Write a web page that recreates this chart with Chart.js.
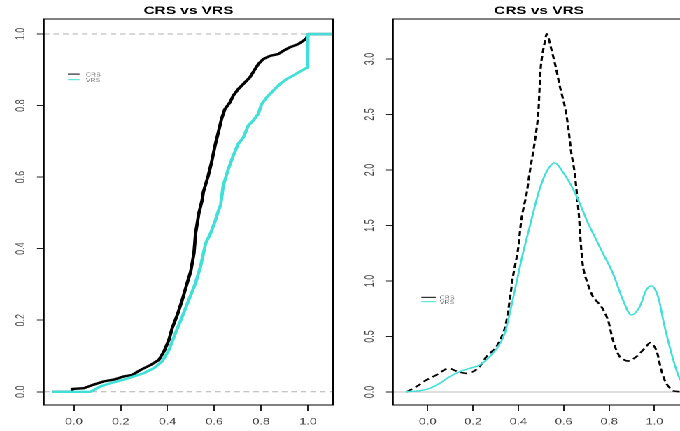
<!DOCTYPE html>
<html>
<head>
<meta charset="utf-8">
<title>CRS vs VRS</title>
<script src="https://cdn.jsdelivr.net/npm/chart.js@4/dist/chart.umd.min.js"></script>
<style>
  html, body { margin: 0; padding: 0; background: #fff; overflow: hidden; }
  /* the figure is laid out narrow and widened horizontally */
  #stage { position: absolute; left: 0; top: 0; width: 486px; height: 431px; overflow: hidden;
           transform-origin: 0 0; transform: scaleX(1.39918); }
  #p1 { position: absolute; left: 0; top: 0; width: 243px; height: 431px; }
  #p2 { position: absolute; left: 243px; top: 0; width: 248px; height: 431px; }
</style>
</head>
<body>
<div id="stage">
  <div id="p1"><canvas id="ecdf"></canvas></div>
  <div id="p2"><canvas id="dens"></canvas></div>
</div>
<script>
const crsEcdfX = [-0.094, -0.007, -0.007, 0.043, 0.085, 0.128, 0.171, 0.214, 0.249, 0.285, 0.328, 0.363, 0.385,
  0.406, 0.420, 0.442, 0.463, 0.484, 0.499, 0.513, 0.520, 0.534, 0.540, 0.548, 0.553, 0.574, 0.588,
  0.603, 0.617, 0.631, 0.645, 0.667, 0.681, 0.702, 0.731, 0.752, 0.774, 0.788, 0.809, 0.838, 0.873,
  0.895, 0.923, 0.959, 0.980, 0.994, 1.000, 1.107];
const crsEcdfY = [0.000, 0.000, 0.008, 0.010, 0.020, 0.029, 0.034, 0.043, 0.047, 0.061, 0.075, 0.089, 0.113,
  0.145, 0.178, 0.215, 0.257, 0.304, 0.336, 0.387, 0.443, 0.499, 0.515, 0.536, 0.558, 0.604, 0.641,
  0.688, 0.725, 0.763, 0.790, 0.809, 0.828, 0.846, 0.865, 0.879, 0.902, 0.916, 0.930, 0.939, 0.944,
  0.953, 0.963, 0.972, 0.981, 0.988, 1.000, 1.000];

const vrsEcdfX = [-0.094, 0.071, 0.114, 0.157, 0.214, 0.256, 0.299, 0.342, 0.377, 0.406, 0.434, 0.463,
  0.491, 0.520, 0.541, 0.563, 0.584, 0.605, 0.617, 0.627, 0.638, 0.660, 0.681, 0.702, 0.724, 0.745,
  0.766, 0.788, 0.802, 0.824, 0.852, 0.880, 0.909, 0.937, 0.966, 0.991, 0.999, 1.000, 1.107];
const vrsEcdfY = [0.000, 0.000, 0.015, 0.024, 0.034, 0.043, 0.052, 0.066, 0.085, 0.117, 0.164, 0.210,
  0.257, 0.304, 0.350, 0.415, 0.443, 0.480, 0.505, 0.522, 0.576, 0.623, 0.660, 0.693, 0.711, 0.744,
  0.758, 0.777, 0.804, 0.823, 0.842, 0.860, 0.874, 0.884, 0.895, 0.904, 0.906, 1.000, 1.000];

// ---- kernel density estimates ----
const crsDensX = [-0.094, -0.050, -0.006, 0.038, 0.090, 0.134, 0.178, 0.222, 0.259, 0.303, 0.340, 0.362,
  0.376, 0.398, 0.413, 0.425, 0.435, 0.450, 0.472, 0.487, 0.494, 0.501, 0.516, 0.526, 0.545, 0.567,
  0.582, 0.604, 0.619, 0.633, 0.648, 0.660, 0.667, 0.672, 0.685, 0.700, 0.729, 0.766, 0.795, 0.817,
  0.847, 0.884, 0.920, 0.957, 0.982, 1.008, 1.030, 1.052, 1.082, 1.111, 1.135];
const crsDensY = [0.000, 0.048, 0.108, 0.153, 0.213, 0.183, 0.168, 0.213, 0.318, 0.408, 0.574, 0.829,
  1.039, 1.279, 1.550, 1.680, 1.769, 1.979, 2.250, 2.490, 2.760, 2.970, 3.150, 3.225, 3.090, 2.910,
  2.760, 2.580, 2.400, 2.160, 1.979, 1.740, 1.590, 1.430, 1.129, 1.009, 0.859, 0.769, 0.649, 0.468,
  0.318, 0.279, 0.318, 0.394, 0.444, 0.378, 0.198, 0.078, 0.012, 0.003, 0.000];

const vrsDensX = [-0.094, -0.035, 0.009, 0.053, 0.097, 0.141, 0.185, 0.229, 0.273, 0.310, 0.340, 0.362,
  0.391, 0.420, 0.450, 0.472, 0.494, 0.523, 0.560, 0.597, 0.641, 0.685, 0.705, 0.729, 0.773, 0.817,
  0.861, 0.898, 0.935, 0.964, 0.986, 1.016, 1.045, 1.075, 1.097, 1.111, 1.135];
const vrsDensY = [0.003, 0.012, 0.033, 0.078, 0.138, 0.183, 0.213, 0.243, 0.318, 0.408, 0.528, 0.709,
  0.979, 1.249, 1.489, 1.669, 1.829, 1.979, 2.063, 1.979, 1.829, 1.630, 1.530, 1.430, 1.249, 1.069,
  0.829, 0.694, 0.769, 0.919, 0.955, 0.859, 0.588, 0.348, 0.198, 0.123, 0.040];

// ---- axis ticks ----
const scoreTicks = [0, 0.2, 0.4, 0.6, 0.8, 1.0];
const scoreTickLabels = ['0.0', '0.2', '0.4', '0.6', '0.8', '1.0'];
const cdfTicks = [0, 0.2, 0.4, 0.6, 0.8, 1.0];
const cdfTickLabels = ['0.0', '0.2', '0.4', '0.6', '0.8', '1.0'];
const densTicks = [0, 0.5, 1.0, 1.5, 2.0, 2.5, 3.0];
const densTickLabels = ['0.0', '0.5', '1.0', '1.5', '2.0', '2.5', '3.0'];

const seriesNames = ['CRS', 'VRS'];
const titleText = 'CRS vs VRS';

const FONT = "'Liberation Sans', Arial, Helvetica, sans-serif";
const CYAN = '#40e0d8';
const TICK_COLOR = '#444';

const pairs = (xs, ys) => xs.map((x, i) => ({ x, y: ys[i] }));

// box round the plot region, reference lines and a small inset legend
const rFrame = {
  id: 'rFrame',
  beforeDatasetsDraw(chart, args, o) {
    const { ctx, chartArea: a, scales: { y } } = chart;
    ctx.save();
    ctx.beginPath();
    ctx.rect(a.left, a.top, a.right - a.left, a.bottom - a.top);
    ctx.clip();
    (o.refLines || []).forEach(l => {
      const py = y.getPixelForValue(l.value);
      ctx.beginPath();
      ctx.setLineDash(l.dash || []);
      ctx.strokeStyle = l.color;
      ctx.lineWidth = l.width;
      ctx.moveTo(a.left, py);
      ctx.lineTo(a.right, py);
      ctx.stroke();
    });
    ctx.restore();
  },
  afterDraw(chart, args, o) {
    const { ctx, chartArea: a, scales: { x, y } } = chart;
    ctx.save();
    ctx.setLineDash([]);
    ctx.strokeStyle = '#000';
    ctx.lineWidth = 1;
    ctx.strokeRect(a.left, a.top, a.right - a.left, a.bottom - a.top);
    const lg = o.legend;
    const lx = x.getPixelForValue(lg.x);
    const ly = y.getPixelForValue(lg.y);
    chart.data.datasets.forEach((ds, i) => {
      const yy = ly + i * lg.rowGap;
      ctx.strokeStyle = ds.borderColor;
      ctx.lineWidth = 1;
      ctx.beginPath();
      ctx.moveTo(lx, yy);
      ctx.lineTo(lx + lg.lineLen, yy);
      ctx.stroke();
      ctx.fillStyle = lg.color;
      ctx.font = lg.size + 'px ' + FONT;
      ctx.textAlign = 'left';
      ctx.textBaseline = 'middle';
      ctx.fillText(ds.label, lx + lg.lineLen + lg.gap, yy + 0.8);
    });
    ctx.restore();
  }
};

function xAxis(min, max, ticks, labels) {
  return {
    type: 'linear', position: 'bottom', min, max,
    afterBuildTicks: s => { s.ticks = ticks.map(v => ({ value: v })); },
    afterFit: s => { s.height = 26; },
    ticks: {
      autoSkip: false, maxRotation: 0, minRotation: 0, padding: 5.6,
      font: { family: FONT, size: 9 }, color: TICK_COLOR,
      callback: (v, i) => labels[i]
    },
    grid: { drawOnChartArea: false, drawTicks: true, tickLength: 6, color: '#222', lineWidth: 1 },
    border: { display: false }
  };
}

function yAxis(min, max, ticks, labels, width) {
  return {
    type: 'linear', position: 'left', min, max,
    afterBuildTicks: s => { s.ticks = ticks.map(v => ({ value: v })); },
    afterFit: s => { s.width = width; },
    ticks: {
      autoSkip: false, minRotation: 90, maxRotation: 90, crossAlign: 'center', padding: 5,
      font: { family: FONT, size: 9 }, color: TICK_COLOR,
      callback: (v, i) => labels[i]
    },
    grid: { drawOnChartArea: false, drawTicks: true, tickLength: 5, color: '#222', lineWidth: 1 },
    border: { display: false }
  };
}

function baseOptions(padRight) {
  return {
    responsive: true, maintainAspectRatio: false, animation: false, events: [],
    devicePixelRatio: 2,
    layout: { padding: { left: 0, right: padRight, top: 0, bottom: 0 } },
    plugins: {
      legend: { display: false },
      tooltip: { enabled: false },
      title: {
        display: true, text: titleText, fullSize: false, color: '#000',
        font: { family: FONT, size: 11, weight: 'bold' },
        padding: { top: 4.6, bottom: 1.2 }
      }
    }
  };
}

// left: cumulative distributions
const ecdfOpts = baseOptions(5);
ecdfOpts.scales = {
  x: xAxis(-0.128, 1.107, scoreTicks, scoreTickLabels),
  y: yAxis(-0.037, 1.042, cdfTicks, cdfTickLabels, 31.4)
};
ecdfOpts.plugins.rFrame = {
  refLines: [
    { value: 0, color: '#b0b0b0', dash: [4, 2.8], width: 1 },
    { value: 1, color: '#b0b0b0', dash: [4, 2.8], width: 1 }
  ],
  legend: { x: -0.026, y: 0.888, rowGap: 5.6, lineLen: 8.4, gap: 4.5, size: 5, color: '#666' }
};

new Chart(document.getElementById('ecdf'), {
  type: 'line',
  data: {
    datasets: [
      { label: seriesNames[0], data: pairs(crsEcdfX, crsEcdfY), borderColor: '#000',
        borderWidth: 2.4, borderJoinStyle: 'round', pointRadius: 0, order: 1 },
      { label: seriesNames[1], data: pairs(vrsEcdfX, vrsEcdfY), borderColor: CYAN,
        borderWidth: 2.4, borderJoinStyle: 'round', pointRadius: 0, order: 0 }
    ]
  },
  options: ecdfOpts,
  plugins: [rFrame]
});

// right: density curves
const densOpts = baseOptions(1.4);
densOpts.scales = {
  x: xAxis(-0.153, 1.135, scoreTicks, scoreTickLabels),
  y: yAxis(-0.117, 3.36, densTicks, densTickLabels, 37.9)
};
densOpts.plugins.rFrame = {
  refLines: [{ value: 0, color: '#bdbdbd', dash: [], width: 1 }],
  legend: { x: -0.028, y: 0.853, rowGap: 4.4, lineLen: 10.3, gap: 2.8, size: 5, color: '#666' }
};

new Chart(document.getElementById('dens'), {
  type: 'line',
  data: {
    datasets: [
      { label: seriesNames[0], data: pairs(crsDensX, crsDensY), borderColor: '#000',
        borderWidth: 1.6, borderDash: [5, 3], tension: 0.3, pointRadius: 0, order: 1 },
      { label: seriesNames[1], data: pairs(vrsDensX, vrsDensY), borderColor: CYAN,
        borderWidth: 1.4, cubicInterpolationMode: 'monotone', pointRadius: 0, order: 0 }
    ]
  },
  options: densOpts,
  plugins: [rFrame]
});
</script>
</body>
</html>
